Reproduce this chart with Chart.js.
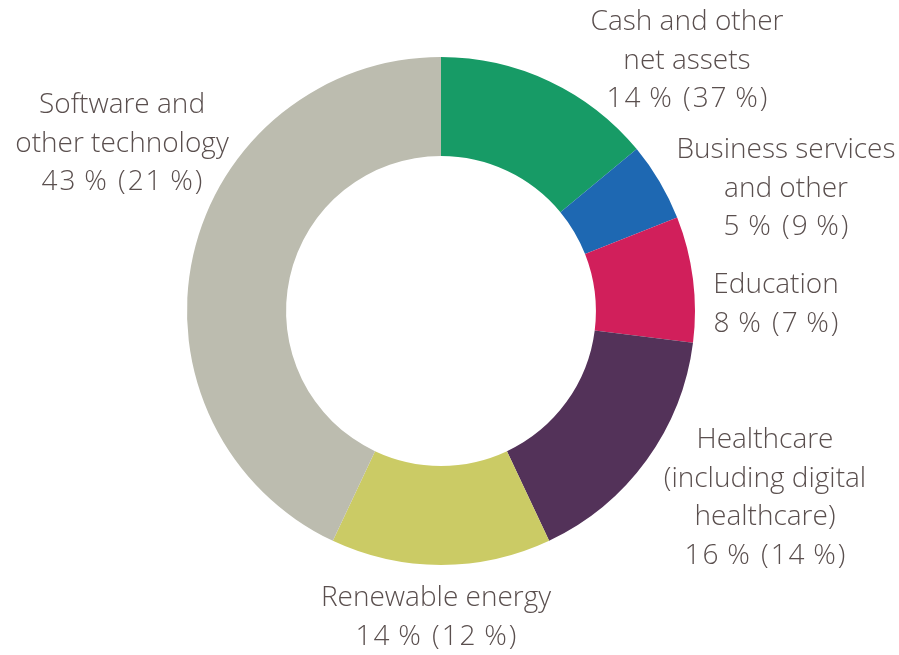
<!DOCTYPE html>
<html>
<head>
<meta charset="utf-8">
<script src="https://cdn.jsdelivr.net/npm/chart.js@4"></script>
<style>
  html, body { margin: 0; padding: 0; background: #fff; }
  #wrap { width: 899px; height: 655px; position: relative; }
</style>
</head>
<body>
<div id="wrap"><canvas id="sectorChart"></canvas></div>
<script>
// sectors, clockwise from 12 o'clock
const sectors = [
  ['Cash and other', 'net assets'],
  ['Business services', 'and other'],
  ['Education'],
  ['Healthcare', '(including digital', 'healthcare)'],
  ['Renewable energy'],
  ['Software and', 'other technology']
];
const shareNow = [14, 5, 8, 16, 14, 43];
const sharePrev = [37, 9, 7, 14, 12, 21];
const sliceColors = ['#179b66', '#1e68b2', '#d11f5b', '#533259', '#cbcb65', '#bcbcaf'];

// where each label block sits (centre x, first line y)
const labelSpots = [
  [687, 22], [786, 150], [776, 285], [765, 440], [436, 598], [122, 105]
];
const lineGap = 38.7;

const labelPlugin = {
  id: 'sectorLabels',
  afterDraw(chart) {
    const ctx = chart.ctx;
    ctx.save();
    ctx.font = '300 28px "Open Sans", sans-serif';
    ctx.fillStyle = '#5a4f4e';
    ctx.textAlign = 'center';
    ctx.textBaseline = 'middle';
    sectors.forEach((lines, i) => {
      const [x, y] = labelSpots[i];
      ctx.letterSpacing = '0px';
      lines.forEach((t, k) => ctx.fillText(t, x, y + k * lineGap));
      ctx.letterSpacing = '2px';
      const pct = shareNow[i] + '\u2009% (' + sharePrev[i] + '\u2009%)';
      ctx.fillText(pct, x + 1, y + lines.length * lineGap);
    });
    ctx.restore();
  }
};

const sectorChart = new Chart(document.getElementById('sectorChart'), {
  type: 'doughnut',
  data: {
    labels: sectors.map(s => s.join(' ')),
    datasets: [{
      data: shareNow,
      backgroundColor: sliceColors,
      borderWidth: 0
    }]
  },
  options: {
    responsive: true,
    maintainAspectRatio: false,
    animation: false,
    cutout: '61%',
    layout: { padding: { left: 187, right: 204, top: 57, bottom: 90 } },
    plugins: {
      legend: { display: false },
      tooltip: { enabled: false }
    }
  },
  plugins: [labelPlugin]
});
</script>
</body>
</html>
